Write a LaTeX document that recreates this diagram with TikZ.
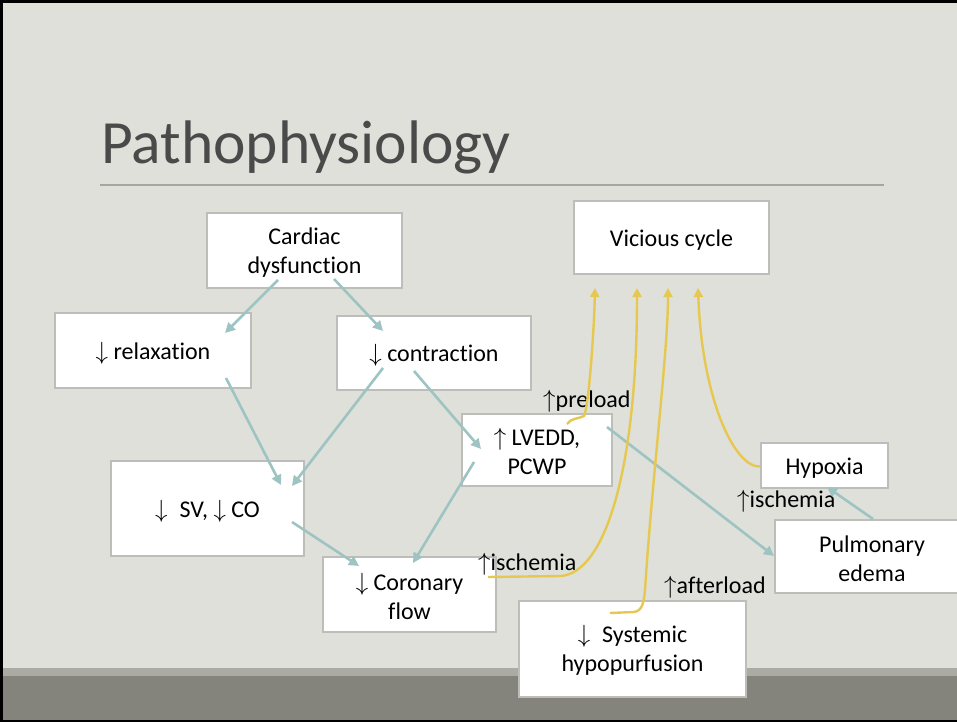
\documentclass[tikz,border=0pt]{standalone}
\usepackage{fontspec}
\setmainfont{Carlito}[Ligatures=CommonOff]
\usetikzlibrary{arrows.meta}
\definecolor{bg}{HTML}{DFE0DA}
\definecolor{stripL}{HTML}{ABABA5}
\definecolor{stripD}{HTML}{84847C}
\definecolor{boxgray}{HTML}{BDBDBA}
\definecolor{teal}{HTML}{9DC4C2}
\definecolor{yel}{HTML}{E6C850}
\definecolor{titlegray}{HTML}{4A4A4A}
\definecolor{rulegray}{HTML}{A5A6A0}
\newcommand{\lowstrut}{\rule[-8.7pt]{0pt}{35pt}}
\begin{document}
\begin{tikzpicture}[x=1pt,y=-1pt,
  box/.style={draw=boxgray, line width=1.3pt, fill=white, align=center, inner sep=0pt,
    font=\fontsize{24}{29}\selectfont},
  lab/.style={inner sep=0pt, anchor=base west, font=\fontsize{24}{29}\selectfont},
  tarrow/.style={draw=teal, line width=2.6pt, -{Triangle[length=10pt,width=10pt]}},
  yarrow/.style={draw=yel, line width=2.4pt, -{Triangle[length=9pt,width=9pt]}}]
\useasboundingbox (0,0) rectangle (957,722);
\clip (0,0) rectangle (957,722);
% background
\fill[bg] (0,0) rectangle (957,722);
\fill[stripL] (0,668) rectangle (957,676);
\fill[stripD] (0,676) rectangle (957,722);
\fill[black] (0,0) rectangle (957,3);
\fill[black] (0,0) rectangle (3,722);
\fill[black] (0,719.5) rectangle (957,722);
% title
\node[inner sep=0pt, anchor=base west, text=titlegray, font=\fontsize{61.5}{70}\selectfont] (title) at (101,164) {Pathophysiology};
\draw[rulegray, line width=1.3pt] (100,185) -- (884,185);
% boxes
\node[box, minimum width=195pt, minimum height=75pt] (cd) at (304.5,250.5) {\strut Cardiac\\dysfunction};
\node[box, minimum width=196pt, minimum height=75pt] (rel) at (153,350.5) {\lowstrut$\downarrow$ relaxation};
\node[box, minimum width=194pt, minimum height=74pt] (con) at (434,353) {\lowstrut$\downarrow$ contraction};
\node[box, minimum width=195pt, minimum height=73pt] (vc) at (671.5,237.5) {\lowstrut Vicious cycle};
\node[box, minimum width=150pt, minimum height=72pt] (lv) at (537,450) {\strut$\uparrow$ LVEDD,\\PCWP};
\node[box, minimum width=193pt, minimum height=95pt] (sv) at (207.5,508.5) {\lowstrut$\downarrow$\enspace SV, $\downarrow$ CO};
\node[box, minimum width=173pt, minimum height=75pt] (cf) at (409.5,594.5) {\strut$\downarrow$ Coronary\\flow};
\node[box, minimum width=127pt, minimum height=45pt] (hy) at (824.5,465.5) {\lowstrut Hypoxia};
\node[box, minimum width=194pt, minimum height=73pt] (pe) at (872,556.5) {\strut Pulmonary\\edema};
\node[box, minimum width=227pt, minimum height=96pt] (sh) at (632.5,649) {\strut$\downarrow$\enspace Systemic\\hypopurfusion};
% labels
\node[lab] (lpre) at (543,407) {$\uparrow$preload};
\node[lab] (lisc1) at (478,570) {$\uparrow$ischemia};
\node[lab] (laft) at (664,593) {$\uparrow$afterload};
\node[lab] (lisc2) at (737,507) {$\uparrow$ischemia};
% teal connectors
\draw[tarrow] ([shift={(-26.5,29.5)}]cd.center) -- ([shift={(72,-17.5)}]rel.center);
\draw[tarrow] ([shift={(29.5,28.5)}]cd.center) -- ([shift={(-51,-22)}]con.center);
\draw[tarrow] ([shift={(73,27.5)}]rel.center) -- ([shift={(73.5,-23.5)}]sv.center);
\draw[tarrow] ([shift={(-51,15)}]con.center) -- ([shift={(84.5,-22.5)}]sv.center);
\draw[tarrow] ([shift={(-20,18)}]con.center) -- ([shift={(-56,-1)}]lv.center);
\draw[tarrow] ([shift={(-63,12)}]lv.center) -- ([shift={(3.5,-31.5)}]cf.center);
\draw[tarrow] ([shift={(84.5,13.5)}]sv.center) -- ([shift={(-50.5,-28.5)}]cf.center);
\draw[tarrow] ([shift={(70,-23)}]lv.center) -- ([shift={(-98,-0.5)}]pe.center);
\draw[tarrow] ([shift={(1,-37.5)}]pe.center) -- ([shift={(2.5,21.5)}]hy.center);
% yellow curves
\draw[yarrow] ([shift={(30,-26)}]lv.center) .. controls (571,418) and (578,419) .. (584,416)
  .. controls (589,405) and (594,330) .. ([shift={(-76.5,50.5)}]vc.center);
\draw[yarrow] ([shift={(78.5,-17.5)}]cf.center) -- (560,576)
  .. controls (605,574) and (637,470) .. ([shift={(-34.5,50.5)}]vc.center);
\draw[yarrow] ([shift={(-22.5,-36)}]sh.center) -- (634,612)
  .. controls (643,611) and (644,600) .. (645,590)
  .. controls (652,480) and (668,350) .. ([shift={(-3.5,50.5)}]vc.center);
\draw[yarrow] ([shift={(-64.5,1)}]hy.center) .. controls (735,468) and (702,400) .. ([shift={(26.5,50.5)}]vc.center);
\end{tikzpicture}
\end{document}
